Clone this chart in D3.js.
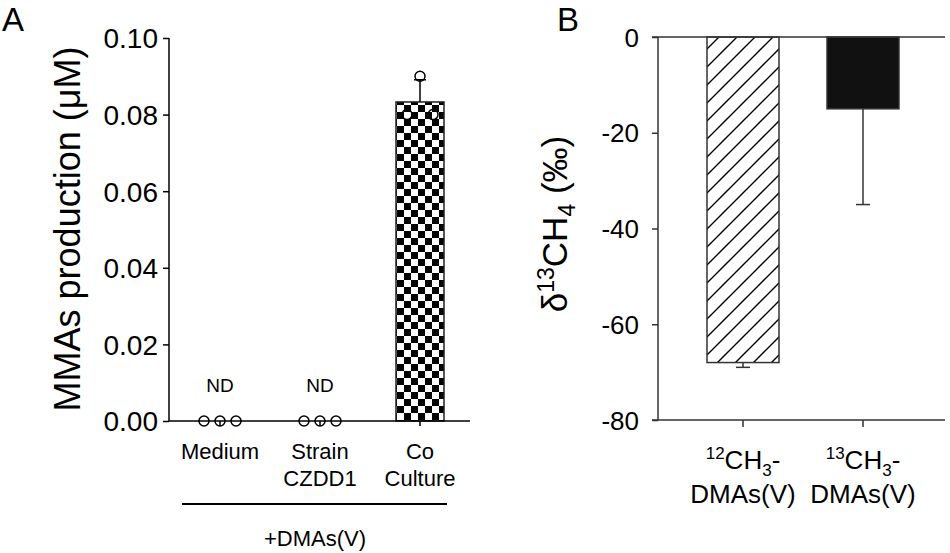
<!DOCTYPE html>
<html><head><meta charset="utf-8">
<script src="https://cdn.jsdelivr.net/npm/d3@7"></script>
<style>
body{margin:0;background:#fff;}
text{font-family:"Liberation Sans",Arial,sans-serif;fill:#000;}
</style></head>
<body><svg id="c" width="950" height="553"></svg>
<script>
// ---- Panel A data ----
const catsA = ["Medium", "Strain CZDD1", "Co Culture"];
const labelLinesA = [["Medium"], ["Strain", "CZDD1"], ["Co", "Culture"]];
const meansA = [0, 0, 0.0833];
const errA = [0, 0, 0.0058];
const detectedA = [false, false, true];
const pointsA = [[0, 0, 0], [0, 0, 0], [0.080, 0.090, 0.080]];
const jitterA = [-1, 0, 1];
const ticksA = [0, 0.02, 0.04, 0.06, 0.08, 0.10];

// ---- Panel B data ----
const catsB = ["12CH3-DMAs(V)", "13CH3-DMAs(V)"];
const isoB = ["12", "13"];
const meansB = [-68, -15];
const errB = [1, 20];
const ticksB = [0, -20, -40, -60, -80];

const svg = d3.select("#c");
const defs = svg.append("defs");

// checker pattern
const chk = defs.append("pattern").attr("id","checker").attr("patternUnits","userSpaceOnUse")
  .attr("width",14).attr("height",14).attr("x",397).attr("y",0);
chk.append("rect").attr("width",14).attr("height",14).attr("fill","#fff");
chk.append("rect").attr("width",7).attr("height",7).attr("fill","#000");
chk.append("rect").attr("x",7).attr("y",7).attr("width",7).attr("height",7).attr("fill","#000");

// hatch pattern
const h = defs.append("pattern").attr("id","hatch").attr("patternUnits","userSpaceOnUse")
  .attr("width",18).attr("height",18);
h.append("rect").attr("width",18).attr("height",18).attr("fill","#fff");
h.append("path").attr("d","M-2,2 L2,-2 M0,18 L18,0 M16,20 L20,16").attr("stroke","#000").attr("stroke-width",1.4);

// ================= Panel A =================
const xA = d3.scaleBand().domain(catsA).range([170, 470]);
const yA = d3.scaleLinear().domain([0, 0.1]).range([421, 38]);
const gA = svg.append("g");

// bars
gA.selectAll("rect.bar").data(catsA.filter((c,i)=>detectedA[i])).join("rect")
  .attr("x", c => xA(c) + xA.bandwidth()/2 - 24)
  .attr("width", 48)
  .attr("y", c => yA(meansA[catsA.indexOf(c)]))
  .attr("height", c => yA(0) - yA(meansA[catsA.indexOf(c)]))
  .attr("fill","url(#checker)").attr("stroke","#222").attr("stroke-width",1.5);

// error bars
catsA.forEach((c,i)=>{
  if(!detectedA[i]) return;
  const cx = xA(c) + xA.bandwidth()/2;
  gA.append("line").attr("x1",cx).attr("x2",cx).attr("y1",yA(meansA[i])).attr("y2",yA(meansA[i]+errA[i]))
    .attr("stroke","#000").attr("stroke-width",1.5);
  gA.append("line").attr("x1",cx-6).attr("x2",cx+6).attr("y1",yA(meansA[i]+errA[i])).attr("y2",yA(meansA[i]+errA[i]))
    .attr("stroke","#000").attr("stroke-width",1.5);
});

// axes
const axA = gA.append("g").attr("transform","translate(169,0)")
  .call(d3.axisLeft(yA).tickValues(ticksA).tickFormat(d3.format(".2f")).tickSize(6).tickPadding(5));
axA.select(".domain").attr("d","M0,38V421").attr("stroke","#000").attr("stroke-width",1.5);
axA.selectAll(".tick line").attr("stroke","#000").attr("stroke-width",1.5);
axA.selectAll(".tick text").style("font-size","28px").attr("dy","0.35em");

const axAx = gA.append("g").attr("transform","translate(0,421)")
  .call(d3.axisBottom(xA).tickSize(5).tickFormat(""));
axAx.select(".domain").attr("d","M169,0H470").attr("stroke","#000").attr("stroke-width",1.5);
axAx.selectAll(".tick line").attr("stroke","#000").attr("stroke-width",1.5);

// points
catsA.forEach((c,i)=>{
  const cx = xA(c) + xA.bandwidth()/2;
  const sp = detectedA[i] ? 13 : 16;
  gA.selectAll(null).data(pointsA[i]).join("circle")
    .attr("cx",(d,j)=>cx + jitterA[j]*sp).attr("cy",d=>yA(d)).attr("r",5)
    .attr("fill","none").attr("stroke","#000").attr("stroke-width",1.5);
  if(!detectedA[i]){
    gA.append("text").attr("x",cx).attr("y",392).attr("text-anchor","middle").style("font-size","19px").text("ND");
  }
  labelLinesA[i].forEach((ln,k)=>{
    gA.append("text").attr("x",cx).attr("y",459 + k*27).attr("text-anchor","middle").style("font-size","22px").text(ln);
  });
});

gA.append("line").attr("x1",182).attr("x2",447).attr("y1",504).attr("y2",504).attr("stroke","#000").attr("stroke-width",2);
gA.append("text").attr("x",315).attr("y",546).attr("text-anchor","middle").style("font-size","22px").text("+DMAs(V)");

gA.append("text").attr("transform","translate(80,229) rotate(-90)").attr("text-anchor","middle")
  .style("font-size","36px").text("MMAs production (μM)");
svg.append("text").attr("x",2).attr("y",31).style("font-size","33px").text("A");

// ================= Panel B =================
const xB = d3.scaleBand().domain(catsB).range([683, 923]);
const yB = d3.scaleLinear().domain([-80, 0]).range([420, 37]);
const gB = svg.append("g");

gB.selectAll("rect.barB").data(catsB).join("rect")
  .attr("x", c => xB(c) + xB.bandwidth()/2 - 36)
  .attr("width", 72)
  .attr("y", yB(0))
  .attr("height", (c,i) => yB(meansB[i]) - yB(0))
  .attr("fill", (c,i) => i===0 ? "url(#hatch)" : "#111")
  .attr("stroke","#333").attr("stroke-width",1.5);

catsB.forEach((c,i)=>{
  const cx = xB(c) + xB.bandwidth()/2;
  const yb = yB(meansB[i]), ye = yB(meansB[i]-errB[i]);
  gB.append("line").attr("x1",cx).attr("x2",cx).attr("y1",yb).attr("y2",ye).attr("stroke","#333").attr("stroke-width",1.5);
  gB.append("line").attr("x1",cx-7).attr("x2",cx+7).attr("y1",ye).attr("y2",ye).attr("stroke","#333").attr("stroke-width",1.5);
});

const axB = gB.append("g").attr("transform","translate(658,0)")
  .call(d3.axisLeft(yB).tickValues(ticksB).tickFormat(d => String(d)).tickSize(6).tickPadding(13));
axB.select(".domain").attr("d","M0,37V420").attr("stroke","#333").attr("stroke-width",1.5);
axB.selectAll(".tick line").attr("stroke","#333").attr("stroke-width",1.5);
axB.selectAll(".tick text").style("font-size","26px").attr("dy","0.35em");

// top zero line
gB.append("line").attr("x1",652).attr("x2",945).attr("y1",yB(0)).attr("y2",yB(0)).attr("stroke","#333").attr("stroke-width",1.5);
const axBx = gB.append("g").attr("transform","translate(0,420)")
  .call(d3.axisBottom(xB).tickSize(7).tickFormat(""));
axBx.select(".domain").attr("d","M652,0H945").attr("stroke","#333").attr("stroke-width",1.5);
axBx.selectAll(".tick line").attr("stroke","#333").attr("stroke-width",1.5);

catsB.forEach((c,i)=>{
  const cx = xB(c) + xB.bandwidth()/2;
  const t = gB.append("text").attr("x",cx).attr("y",469).attr("text-anchor","middle").style("font-size","26px");
  t.append("tspan").attr("dy",-10).style("font-size","17px").text(isoB[i]);
  t.append("tspan").attr("dy",10).text("CH");
  t.append("tspan").attr("dy",7).style("font-size","17px").text("3");
  t.append("tspan").attr("dy",-7).text("-");
  gB.append("text").attr("x",cx).attr("y",503).attr("text-anchor","middle").style("font-size","26px").text("DMAs(V)");
});

const yl = gB.append("text").attr("transform","translate(567,224) rotate(-90)").attr("text-anchor","middle").style("font-size","35px");
yl.append("tspan").text("δ");
yl.append("tspan").attr("dy",-13).style("font-size","23px").text("13");
yl.append("tspan").attr("dy",13).text("CH");
yl.append("tspan").attr("dy",8).style("font-size","23px").text("4");
yl.append("tspan").attr("dy",-8).text(" (‰)");
svg.append("text").attr("x",557).attr("y",31).style("font-size","33px").text("B");
</script></body></html>
